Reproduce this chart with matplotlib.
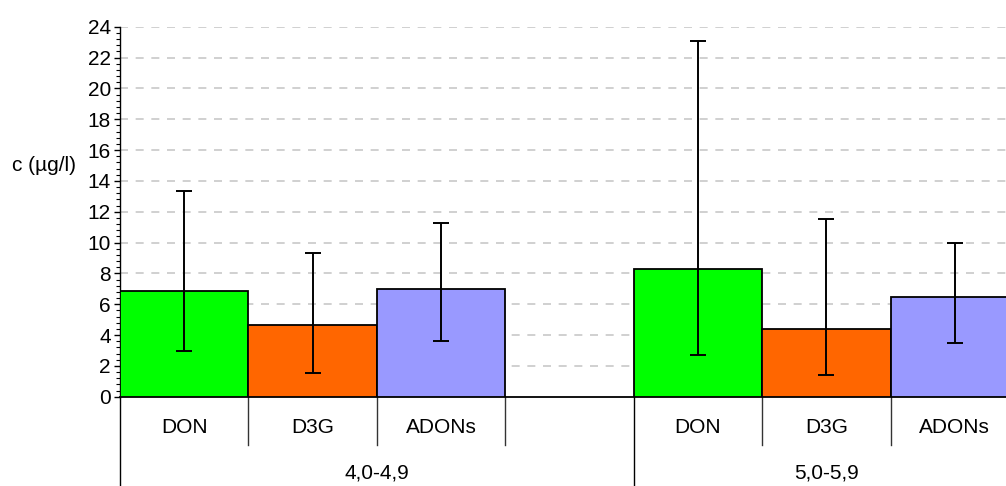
import matplotlib.pyplot as plt
import matplotlib.transforms as mtransforms
from matplotlib.ticker import MultipleLocator

plt.rcParams["font.family"] = ["Liberation Sans", "DejaVu Sans"]

# toxin means and min/max ranges per pH class
toxins = ["DON", "D3G", "ADONs"]
groups = ["4,0-4,9", "5,0-5,9"]
means_g1 = [6.87, 4.67, 7.0]
means_g2 = [8.28, 4.41, 6.49]
low_g1 = [2.98, 1.56, 3.63]
low_g2 = [2.72, 1.43, 3.50]
high_g1 = [13.36, 9.34, 11.28]
high_g2 = [23.09, 11.52, 9.99]
colors = ["#00ff00", "#ff6600", "#9999ff"]

FS = 15

fig = plt.figure(figsize=(10.06, 4.86), dpi=100)
ax = fig.add_axes([120 / 1006, 89.3 / 486, 899 / 1006, 370 / 486])

# one empty slot separates the two groups
x_g1 = [0, 1, 2]
x_g2 = [4, 5, 6]

for xs, means, lows, highs in [(x_g1, means_g1, low_g1, high_g1),
                               (x_g2, means_g2, low_g2, high_g2)]:
    ax.bar(xs, means, width=1.0, color=colors, edgecolor="black",
           linewidth=1.3, zorder=3)
    err = [[m - l for m, l in zip(means, lows)],
           [h - m for m, h in zip(means, highs)]]
    ax.errorbar(xs, means, yerr=err, fmt="none", ecolor="black",
                elinewidth=1.4, capsize=5.8, capthick=1.4, zorder=4)

ax.set_xlim(-0.5, 6.5)
ax.set_ylim(0, 24)
ax.yaxis.set_major_locator(MultipleLocator(2))
ax.yaxis.set_minor_locator(MultipleLocator(0.4))
ax.tick_params(axis="y", which="major", direction="out", length=4.5,
               width=1.0, labelsize=FS, pad=2)
ax.tick_params(axis="y", which="minor", direction="out", length=2.8,
               width=0.8)
ax.set_xticks([])

for v in range(2, 25, 2):
    ax.axhline(v, color="#c8c8c8", linewidth=1.2, dashes=(4.8, 4.6),
               zorder=1)

for side in ["top", "right"]:
    ax.spines[side].set_visible(False)
ax.spines["left"].set_linewidth(1.0)
ax.spines["bottom"].set_linewidth(1.3)

ax.text(12 / 899 - 120 / 899, 0.626, "c (µg/l)", transform=ax.transAxes,
        fontsize=FS, ha="left", va="center")

# two-level category axis below the plot
trans = mtransforms.blended_transform_factory(ax.transData, ax.transAxes)
for xs in (x_g1, x_g2):
    for x, name in zip(xs, toxins):
        ax.text(x, -0.083, name, transform=trans, fontsize=FS,
                ha="center", va="center")
for x in [0.5, 1.5, 2.5, 4.5, 5.5]:
    ax.plot([x, x], [0, -0.13], transform=trans, color="#333333",
            linewidth=1.0, clip_on=False)
for x in [-0.5, 3.5]:
    ax.plot([x, x], [0, -0.3], transform=trans, color="black",
            linewidth=1.0, clip_on=False)
ax.text(1.5, -0.206, groups[0], transform=trans, fontsize=FS,
        ha="center", va="center")
ax.text(5.0, -0.206, groups[1], transform=trans, fontsize=FS,
        ha="center", va="center")

fig.savefig("out.png", dpi=100)
